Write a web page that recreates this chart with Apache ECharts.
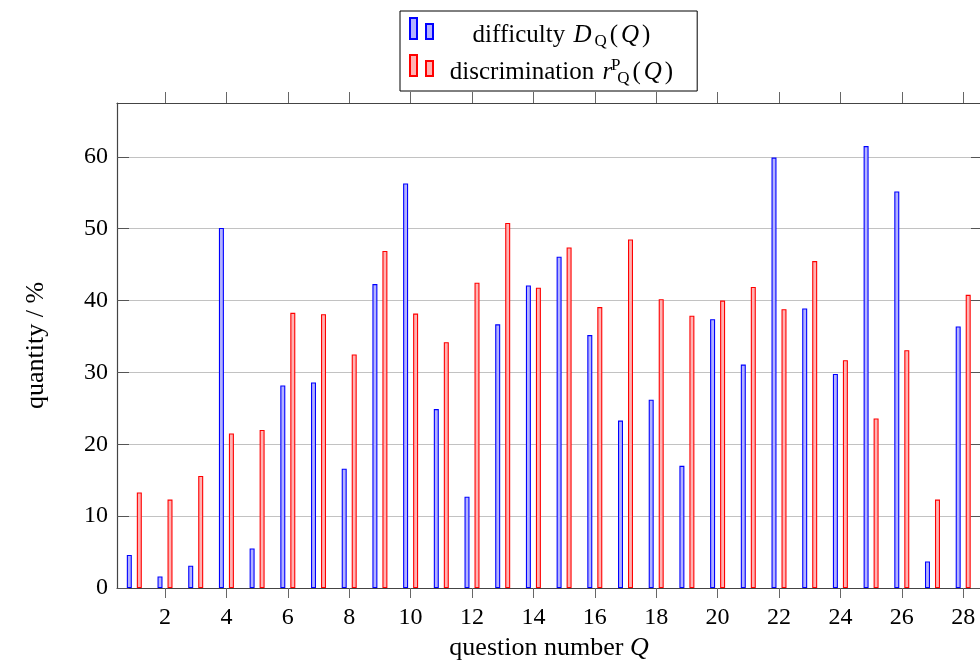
<!DOCTYPE html>
<html>
<head>
<meta charset="utf-8">
<script src="https://cdn.jsdelivr.net/npm/echarts@6/dist/echarts.min.js"></script>
<style>
html,body{margin:0;padding:0;background:#fff;}
#chart{width:980px;height:660px;}
</style>
</head>
<body>
<div id="chart"></div>
<script>
// Data
const questions = [1,2,3,4,5,6,7,8,9,10,11,12,13,14,15,16,17,18,19,20,21,22,23,24,25,26,27,28];
const difficulty = [4.6,1.6,3.1,50.1,5.5,28.2,28.6,16.6,42.3,56.3,24.9,12.7,36.7,42.1,46.1,35.2,23.3,26.2,17.0,37.4,31.1,59.9,38.9,29.8,61.5,55.2,3.7,36.4];
const discrimination = [13.3,12.3,15.6,21.5,22.0,38.3,38.1,32.5,46.9,38.2,34.2,42.5,50.8,41.8,47.4,39.1,48.5,40.2,37.9,40.0,41.9,38.8,45.5,31.7,23.6,33.1,12.3,40.8];
const xTicks = [2,4,6,8,10,12,14,16,18,20,22,24,26,28];
const yTicks = [0,10,20,30,40,50,60];

const FONT = 'Liberation Serif';
const chart = echarts.init(document.getElementById('chart'), null, {renderer: 'canvas'});

const X_MIN = 0.436, X_MAX = 28.58, Y_MAX = 67.5;
const axisColor = '#444';

const legendRich = {
  t: {fontFamily: FONT, fontSize: 25, color: '#000', lineHeight: 30, align: 'center'},
  p: {fontFamily: FONT, fontSize: 25, color: '#000', lineHeight: 30, align: 'center', padding: [0, 1, 0, 1]},
  m: {fontFamily: FONT, fontSize: 25, fontStyle: 'italic', color: '#000', lineHeight: 30, align: 'center', padding: [0, 2, 0, 2]},
  sub: {fontFamily: FONT, fontSize: 17, color: '#000', lineHeight: 18, verticalAlign: 'bottom', align: 'center', padding: [0, 2, 0, 1]},
  sup: {fontFamily: FONT, fontSize: 17, color: '#000', lineHeight: 18, verticalAlign: 'top', align: 'center', width: 1, padding: [0, 0, 0, 1]}
};

const option = {
  animation: false,
  backgroundColor: '#fff',
  textStyle: {fontFamily: FONT, color: '#000'},
  grid: {left: 117, right: -1, top: 103, bottom: 72, containLabel: false, outerBoundsMode: 'none'},
  legend: {
    orient: 'vertical',
    left: 400,
    top: 11,
    padding: [6, 23, 0, 9],
    itemGap: 0,
    itemWidth: 23,
    itemHeight: 35,
    borderColor: '#000',
    borderWidth: 1,
    backgroundColor: '#fff',
    selectedMode: false,
    icon: 'path://M0,0H7V21H0Z M16,6H23V21H16Z M0,35L0,35',
    textStyle: {fontFamily: FONT, fontSize: 25, color: '#000', width: 242, padding: [0, 0, 0, 3], rich: legendRich},
    formatter: function (name) {
      if (name === 'difficulty') return '{t|difficulty }{m|D}{sub|Q}{p|(}{m|Q}{p|)}';
      return '{t|discrimination }{m|r}{sup|P}{sub|Q}{p|(}{m|Q}{p|)}';
    },
    data: ['difficulty', 'discrimination']
  },
  xAxis: [{
    type: 'value',
    position: 'bottom',
    min: X_MIN, max: X_MAX,
    name: 'question number {i|Q}',
    nameLocation: 'middle',
    nameGap: 44,
    nameTextStyle: {fontFamily: FONT, fontSize: 26, color: '#000',
      rich: {i: {fontFamily: FONT, fontSize: 26, fontStyle: 'italic', color: '#000'}}},
    axisLine: {show: true, onZero: false, lineStyle: {color: axisColor, width: 1.2}},
    axisTick: {show: true, inside: false, length: 10, customValues: xTicks, lineStyle: {color: '#666', width: 1}},
    axisLabel: {show: true, customValues: xTicks, margin: 18, fontFamily: FONT, fontSize: 24, color: '#000'},
    splitLine: {show: false}
  }, {
    type: 'value',
    position: 'top',
    min: X_MIN, max: X_MAX,
    axisLine: {show: true, onZero: false, lineStyle: {color: axisColor, width: 1.2}},
    axisTick: {show: true, inside: false, length: 11, customValues: xTicks, lineStyle: {color: '#666', width: 1}},
    axisLabel: {show: false},
    splitLine: {show: false}
  }],
  yAxis: [{
    type: 'value',
    position: 'left',
    min: 0, max: Y_MAX, interval: 10,
    name: 'quantity / %',
    nameLocation: 'middle',
    nameGap: 68,
    nameRotate: 90,
    nameTextStyle: {fontFamily: FONT, fontSize: 26, color: '#000'},
    axisLine: {show: true, onZero: false, lineStyle: {color: axisColor, width: 1.2}},
    axisTick: {show: true, inside: true, length: 12, customValues: yTicks, lineStyle: {color: '#555', width: 1}},
    axisLabel: {show: true, customValues: yTicks, margin: 9, fontFamily: FONT, fontSize: 24, color: '#000'},
    splitLine: {show: true, lineStyle: {color: '#c2c2c2', width: 1}}
  }, {
    type: 'value',
    position: 'right',
    min: 0, max: Y_MAX, interval: 10,
    axisLine: {show: true, onZero: false, lineStyle: {color: axisColor, width: 1.2}},
    axisTick: {show: true, inside: true, length: 10, customValues: yTicks, lineStyle: {color: '#555', width: 1}},
    axisLabel: {show: false},
    splitLine: {show: false}
  }],
  series: [{
    name: 'difficulty',
    type: 'bar',
    xAxisIndex: 0, yAxisIndex: 0,
    barWidth: 5,
    barGap: '100%',
    itemStyle: {color: '#b3b3ff', borderColor: '#0000ff', borderWidth: 1.1},
    data: questions.map((q, i) => [q, difficulty[i]])
  }, {
    name: 'discrimination',
    type: 'bar',
    xAxisIndex: 0, yAxisIndex: 0,
    barWidth: 5,
    barGap: '100%',
    itemStyle: {color: '#ffb3b3', borderColor: '#ff0000', borderWidth: 1.1},
    data: questions.map((q, i) => [q, discrimination[i]])
  }]
};
chart.setOption(option);
</script>
</body>
</html>
